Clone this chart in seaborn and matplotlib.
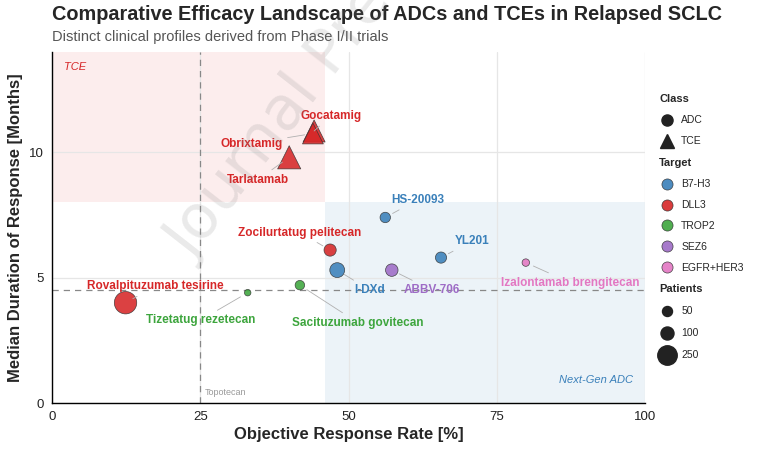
import matplotlib
matplotlib.use("Agg")
import matplotlib.pyplot as plt
from matplotlib.lines import Line2D
import seaborn as sns
import pandas as pd

drugs = ["Tarlatamab", "Gocatamig", "Obrixtamig", "Rovalpituzumab tesirine",
         "Zocilurtatug pelitecan", "I-DXd", "HS-20093", "YL201", "ABBV-706",
         "Izalontamab brengitecan", "Sacituzumab govitecan", "Tizetatug rezetecan"]
orr = [40.0, 44.2, 44.0, 12.4, 46.9, 48.1, 56.2, 65.6, 57.3, 79.9, 41.8, 33.0]
dor = [9.8, 10.85, 10.75, 4.0, 6.1, 5.3, 7.4, 5.8, 5.3, 5.6, 4.7, 4.4]
target = ["DLL3", "DLL3", "DLL3", "DLL3", "DLL3", "B7-H3", "B7-H3", "B7-H3",
          "SEZ6", "EGFR+HER3", "TROP2", "TROP2"]
drug_class = ["TCE", "TCE", "TCE", "ADC", "ADC", "ADC", "ADC", "ADC", "ADC",
              "ADC", "ADC", "ADC"]
patients = [190, 170, 150, 339, 85, 137, 56, 68, 90, 18, 43, 8]

target_order = ["B7-H3", "DLL3", "TROP2", "SEZ6", "EGFR+HER3"]
target_colors = ["#3A80BA", "#D62728", "#3DA53D", "#9E6CC6", "#E377C2"]
palette = dict(zip(target_order, target_colors))

# label placement (data coords)
label_pos = {
    "Tarlatamab": (34.7, 8.9),
    "Gocatamig": (47.0, 11.45),
    "Obrixtamig": (33.7, 10.35),
    "Rovalpituzumab tesirine": (17.4, 4.65),
    "Zocilurtatug pelitecan": (41.8, 6.8),
    "I-DXd": (53.6, 4.5),
    "HS-20093": (61.6, 8.1),
    "YL201": (70.8, 6.45),
    "ABBV-706": (64.1, 4.5),
    "Izalontamab brengitecan": (87.4, 4.8),
    "Sacituzumab govitecan": (51.6, 3.2),
    "Tizetatug rezetecan": (25.0, 3.3),
}

df = pd.DataFrame({"Drug": drugs, "ORR": orr, "DoR": dor, "Target": target,
                   "Class": drug_class, "Patients": patients})

sns.set_style("white")
plt.rcParams["font.family"] = ["Liberation Sans", "DejaVu Sans"]

fig = plt.figure(figsize=(7.74, 4.49), dpi=100)
ax = fig.add_axes([52 / 774, 1 - 403 / 449, 593 / 774, 351 / 449])

# quadrant shading
ax.axvspan(0, 46, ymin=8 / 14, ymax=1, color="#E41A1C", alpha=0.08, lw=0, zorder=0)
ax.axvspan(46, 100, ymin=0, ymax=8 / 14, color="#377EB8", alpha=0.09, lw=0, zorder=0)

ax.grid(True, color="#e6e6e6", lw=0.9, zorder=0.5)
ax.set_axisbelow(True)
ax.axhline(4.5, color="#888888", ls=(0, (5, 4)), lw=0.9, zorder=1)
ax.axvline(25, color="#888888", ls=(0, (5, 4)), lw=0.9, zorder=1)

size_norm = (0, 350)
adc = df[df["Class"] == "ADC"]
tce = df[df["Class"] == "TCE"]
sns.scatterplot(data=adc, x="ORR", y="DoR", hue="Target", palette=palette,
                size="Patients", sizes=(16, 268), size_norm=size_norm,
                marker="o", edgecolor="#333333", linewidth=0.5, alpha=0.88,
                legend=False, ax=ax, zorder=3)
sns.scatterplot(data=tce, x="ORR", y="DoR", hue="Target", palette=palette,
                size="Patients", sizes=(29, 488), size_norm=size_norm,
                marker="^", edgecolor="#333333", linewidth=0.5, alpha=0.88,
                legend=False, ax=ax, zorder=3)

for name, x, y, t in zip(drugs, orr, dor, target):
    ax.annotate(name, xy=(x, y), xytext=label_pos[name], ha="center", va="center",
                fontsize=8.5, fontweight="bold", color=palette[t], zorder=4,
                arrowprops=dict(arrowstyle="-", color="#b0b0b0", lw=0.6,
                                shrinkA=1, shrinkB=6))

ax.text(2, 13.4, "TCE", color="#D62728", fontstyle="italic", fontsize=8, va="center")
ax.text(98, 0.92, "Next-Gen ADC", color="#3A80BA", fontstyle="italic", fontsize=8,
        ha="right", va="center")
ax.text(25.8, 0.42, "Topotecan", color="#999999", fontsize=6.5, va="center")

ax.set_xlim(0, 100)
ax.set_ylim(0, 14)
ax.set_xticks([0, 25, 50, 75, 100])
ax.set_yticks([0, 5, 10])
for s in ["top", "right"]:
    ax.spines[s].set_visible(False)
for s in ["left", "bottom"]:
    ax.spines[s].set_color("black")
    ax.spines[s].set_linewidth(1.0)
ax.tick_params(axis="both", direction="out", length=4, width=0.9, color="black",
               labelsize=9.5, labelcolor="#222222", pad=2)
ax.set_xlabel("Objective Response Rate [%]", fontsize=12, fontweight="bold", labelpad=3)
ax.set_ylabel("Median Duration of Response [Months]", fontsize=12,
              fontweight="bold", labelpad=4)

fig.text(52 / 774, 1 - 15 / 449, "Comparative Efficacy Landscape of ADCs and TCEs in Relapsed SCLC",
         fontsize=14.3, fontweight="bold", ha="left", va="center")
fig.text(52 / 774, 1 - 37 / 449, "Distinct clinical profiles derived from Phase I/II trials",
         fontsize=10.5, color="#555555", ha="left", va="center")

# watermark (runs off the top edge, as in the source)
fig.text(192 / 774, 1 - 262 / 449, "Journal Pre-proof", rotation=52,
         rotation_mode="anchor", ha="left", va="baseline", fontsize=44,
         color="gray", alpha=0.17, family="DejaVu Sans")

# legends
def make_legend(title, handles, labels, ytop, spacing):
    leg = fig.legend(handles, labels, title=title, loc="upper left",
                     bbox_to_anchor=(652 / 774, 1 - ytop / 449), frameon=False,
                     fontsize=7.5, title_fontproperties={"weight": "bold", "size": 8},
                     alignment="left", handletextpad=0.6, labelspacing=spacing,
                     handlelength=1.5, borderpad=0.2)
    return leg

class_handles = [Line2D([], [], marker="o", ls="", color="#222222", markersize=8),
                 Line2D([], [], marker="^", ls="", color="#222222", markersize=10)]
make_legend("Class", class_handles, ["ADC", "TCE"], 87, 1.05)

target_handles = [Line2D([], [], marker="o", ls="", markerfacecolor=c, alpha=0.9,
                         markeredgecolor="#333333", markeredgewidth=0.5, markersize=8)
                  for c in target_colors]
make_legend("Target", target_handles, target_order, 151, 1.05)

patient_breaks = [50, 100, 250]
patient_handles = [Line2D([], [], marker="o", ls="", color="#222222",
                          markersize=(16 + 252 * p / 350) ** 0.5) for p in patient_breaks]
make_legend("Patients", patient_handles, [str(p) for p in patient_breaks], 277, 1.15)

fig.savefig("out.png", dpi=100)
